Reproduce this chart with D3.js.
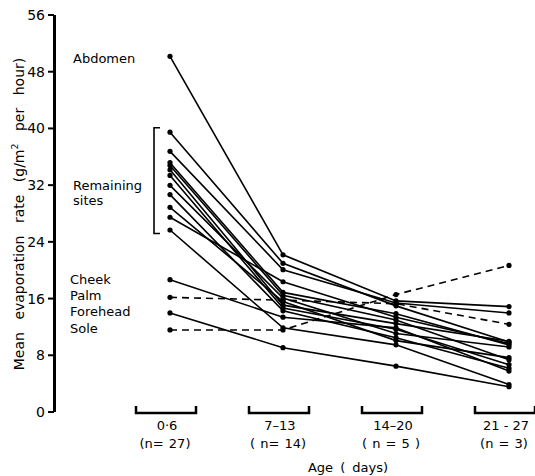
<!DOCTYPE html>
<html>
<head>
<meta charset="utf-8">
<script src="https://cdn.jsdelivr.net/npm/d3@7"></script>
<style>
  html, body { margin: 0; padding: 0; background: #fff; }
  svg text { font-family: "DejaVu Sans", sans-serif; fill: #000; }
</style>
</head>
<body>
<svg id="chart" width="535" height="476"></svg>
<script>
// Age groups (days) and group sizes
const ageGroups = ["0·6", "7–13", "14–20", "21 - 27"];
const groupSizes = ["(n= 27)", "( n= 14)", "( n = 5 )", "(n =  3)"];
const yTicks = [0, 8, 16, 24, 32, 40, 48, 56];

// Mean evaporation rate (g/m² per hour) by body site, one value per age group
const abdomen   = [50.1, 22.1, 15.6, 14.8];
const remaining1  = [39.4, 20.9, 14.9, 9.8];
const remaining2  = [36.7, 20.0, 15.3, 13.9];
const remaining3  = [35.1, 16.8, 13.8, 9.4];
const remaining4  = [34.7, 16.4, 12.9, 7.3];
const remaining5  = [34.1, 15.0, 12.4, 9.9];
const remaining6  = [33.3, 14.6, 11.6, 6.6];
const remaining7  = [31.9, 16.0, 11.0, 9.1];
const remaining8  = [30.6, 14.2, 10.4, 6.1];
const remaining9  = [28.8, 15.5, 10.0, 7.6];
const remaining10 = [27.4, 18.3, 13.3, 9.6];
const remaining11 = [25.6, 11.8, 9.4, 3.8];
const cheek     = [18.6, 13.3, 11.8, 5.7];
const palm      = [16.1, 15.7, 15.2, 12.3];
const forehead  = [13.9, 9.0, 6.4, 3.5];
const sole      = [11.5, 11.5, 16.5, 20.6];

const series = [
  { values: abdomen, dashed: false },
  { values: remaining1, dashed: false },
  { values: remaining2, dashed: false },
  { values: remaining3, dashed: false },
  { values: remaining4, dashed: false },
  { values: remaining5, dashed: false },
  { values: remaining6, dashed: false },
  { values: remaining7, dashed: false },
  { values: remaining8, dashed: false },
  { values: remaining9, dashed: false },
  { values: remaining10, dashed: false },
  { values: remaining11, dashed: false },
  { values: cheek, dashed: false },
  { values: palm, dashed: true },
  { values: forehead, dashed: false },
  { values: sole, dashed: true }
];

const svg = d3.select("#chart");

const x = d3.scalePoint().domain(ageGroups).range([170, 509]);
const y = d3.scaleLinear().domain([0, 56]).range([411.5, 14.5]);

// Y axis
const yAxis = svg.append("g")
  .attr("transform", "translate(54,0)")
  .call(d3.axisLeft(y).tickValues(yTicks).tickSize(6).tickPadding(3).tickSizeOuter(0));
yAxis.select(".domain").attr("stroke", "#000").attr("stroke-width", 3);
yAxis.selectAll(".tick line").attr("stroke", "#000").attr("stroke-width", 2);
yAxis.selectAll(".tick text")
  .style("font-size", "14px")
  .attr("dy", "0.36em");

// Y axis title
svg.append("text")
  .attr("transform", "translate(24,214) rotate(-90)")
  .attr("text-anchor", "middle")
  .style("font-size", "14px")
  .style("word-spacing", "8px")
  .html('Mean evaporation rate  (g/m<tspan dy="-6" font-size="9.5px">2</tspan><tspan dy="6"> per hour)</tspan>');

// Lines joining each site across age groups
const line = d3.line()
  .x((d, i) => x(ageGroups[i]))
  .y(d => y(d));

svg.append("g").selectAll("path")
  .data(series)
  .join("path")
  .attr("d", d => line(d.values))
  .attr("fill", "none")
  .attr("stroke", "#000")
  .attr("stroke-width", 1.6)
  .attr("stroke-dasharray", d => d.dashed ? "7,5" : null);

// Points
const pts = series.flatMap(s => s.values.map((v, i) => ({ g: ageGroups[i], v })));
svg.append("g").selectAll("circle")
  .data(pts)
  .join("circle")
  .attr("cx", d => x(d.g))
  .attr("cy", d => y(d.v))
  .attr("r", 2.6)
  .attr("fill", "#000");

// Bracket grouping the remaining sites at the first age group
const bx = x(ageGroups[0]) - 16;
const bTop = y(remaining1[0]) - 4.5;
const bBot = y(remaining11[0]) + 3.5;
svg.append("path")
  .attr("d", `M${bx + 6},${bTop}H${bx}V${bBot}H${bx + 6}`)
  .attr("fill", "none")
  .attr("stroke", "#000")
  .attr("stroke-width", 1.6);

// Site labels
const labelStyle = sel => sel.style("font-size", "13px");
svg.append("text").attr("x", 73).attr("y", y(abdomen[0]) + 2).attr("dy", "0.35em").text("Abdomen").call(labelStyle);
svg.append("text").attr("x", 73).attr("y", 185.5).attr("dy", "0.35em").text("Remaining").call(labelStyle);
svg.append("text").attr("x", 73).attr("y", 200.5).attr("dy", "0.35em").text("sites").call(labelStyle);
svg.append("text").attr("x", 70).attr("y", 279).attr("dy", "0.35em").text("Cheek").call(labelStyle);
svg.append("text").attr("x", 70).attr("y", 295).attr("dy", "0.35em").text("Palm").call(labelStyle);
svg.append("text").attr("x", 70).attr("y", 311).attr("dy", "0.35em").text("Forehead").call(labelStyle);
svg.append("text").attr("x", 70).attr("y", 328).attr("dy", "0.35em").text("Sole").call(labelStyle);

// Age-group brackets and labels along the bottom
const gx = svg.append("g");
ageGroups.forEach((g, i) => {
  const cx = x(g);
  gx.append("path")
    .attr("d", `M${cx - 34},${406}V${413}H${cx + 26}V${406}`)
    .attr("fill", "none")
    .attr("stroke", "#000")
    .attr("stroke-width", 2.5);
  gx.append("text")
    .attr("x", cx - 3).attr("y", 430)
    .attr("text-anchor", "middle")
    .style("font-size", "13px")
    .text(g);
  gx.append("text")
    .attr("x", cx - 5).attr("y", 448)
    .attr("text-anchor", "middle")
    .style("font-size", "13px")
    .style("word-spacing", "1px")
    .text(groupSizes[i]);
});

svg.append("text")
  .attr("x", 348).attr("y", 472)
  .attr("text-anchor", "middle")
  .style("font-size", "13px")
  .style("word-spacing", "3px")
  .text("Age ( days)");
</script>
</body>
</html>
